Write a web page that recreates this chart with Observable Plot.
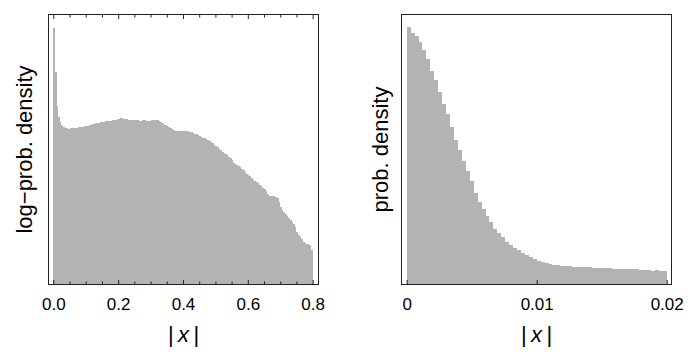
<!DOCTYPE html>
<html>
<head>
<meta charset="utf-8">
<script src="https://cdn.jsdelivr.net/npm/d3@7"></script>
<script src="https://cdn.jsdelivr.net/npm/@observablehq/plot@0.6"></script>
<style>
  html, body { margin: 0; padding: 0; background: #fff; }
  #wrap { display: flex; width: 692px; height: 362px; }
  svg { font-family: "Liberation Sans", Arial, sans-serif; color: #222; }
</style>
</head>
<body>
<div id="wrap"></div>
<script>
// ---- Left panel: histogram of |x| (log-prob. density, arbitrary units) ----
const leftBinWidth = 0.005;
const leftHeights = [
  256, 212, 178, 167, 162, 159, 157, 156, 156, 155.5,
  156, 156, 156, 156.5, 156.5, 157, 157, 157, 157.5, 158,
  158, 158.5, 159, 159.5, 160, 160.5, 161, 161.5, 161.5, 162,
  162.5, 162.5, 163, 163, 163.5, 163.5, 164, 164, 164.5, 165,
  165.5, 166, 166, 165.5, 165, 165, 164.5, 164.5, 164, 164,
  164, 164, 164, 163.5, 163.5, 164, 164, 163.5, 163, 163.5,
  164, 164, 164.5, 164.5, 164, 163, 162, 161, 159.5, 159,
  158, 157, 156, 155, 154, 153.5, 153.5, 153.5, 153.5, 153.5,
  153.5, 153.5, 153, 153, 152.5, 152, 151, 150.5, 150, 149,
  148, 147, 146.5, 146, 145, 144, 143, 142, 141, 139.5,
  138.5, 137, 135.5, 134, 132, 131, 130, 129, 127.5, 126,
  124, 121, 120, 119, 118, 117, 115.5, 114, 112, 110.5,
  109.5, 108, 106, 104.5, 103, 102, 101, 99.5, 98, 96.5,
  95, 93, 90, 88, 88, 88.5, 88, 87, 86.5, 82,
  77, 74, 72, 70, 68, 66.5, 64, 62, 60, 57,
  52, 49, 47, 45, 42, 41, 40.5, 40, 39, 34
];
const leftTicksMajor = [0, 0.2, 0.4, 0.6, 0.8];
const leftTickLabels = ["0.0", "0.2", "0.4", "0.6", "0.8"];
const leftTicksMinor = [0.05, 0.1, 0.15, 0.25, 0.3, 0.35, 0.45, 0.5, 0.55, 0.65, 0.7, 0.75];
const leftYTitle = "log\u2212prob. density";

// ---- Right panel: histogram of |x| (prob. density, arbitrary units) ----
const rightBinWidth = 0.02 / 66;
const rightHeights = [
  770, 752, 743, 726, 703, 675, 640, 612, 577, 540,
  510, 472, 432, 403, 370, 340, 310, 272, 247, 225,
  205, 185, 165, 152, 140, 127, 117, 107, 102, 92,
  86, 81, 75, 70, 66, 63, 61, 58, 57, 55,
  54, 53, 51, 50, 50, 50, 51, 49, 48, 47,
  47, 47, 46, 45, 45, 46, 45, 44, 44, 42,
  42, 41, 40, 41, 40, 39
];
const rightTicksMajor = [0, 0.01, 0.02];
const rightTickLabels = ["0", "0.01", "0.02"];
const rightYTitle = "prob. density";

const xTitle = "|x|";

const barFill = "#b3b3b3";
const frameColor = "#222";

function panel({heights, binWidth, xDomain, yMax, ticks, tickLabels, minor, topTicks, yTitle, marginLeft, marginRight, yTitleDx}) {
  const data = heights.map((h, i) => ({x1: i * binWidth, x2: (i + 1) * binWidth, h}));
  const marks = [
    Plot.rectY(data, {x1: "x1", x2: "x2", y: "h", fill: barFill, shapeRendering: "crispEdges"}),
    Plot.frame({stroke: frameColor}),
    // tick labels
    Plot.axisX({ticks, tickSize: 0, tickPadding: 13, tickFormat: (d, i) => tickLabels[i], fontSize: 17, fill: "#000", label: null}),
    // inward major ticks
    Plot.axisX({ticks, tickSize: -4, fill: "none", stroke: frameColor, label: null})
  ];
  if (minor) marks.push(Plot.axisX({ticks: minor, tickSize: -2.5, fill: "none", stroke: frameColor, label: null}));
  if (topTicks) {
    marks.push(Plot.axisX({anchor: "top", ticks, tickSize: -4, fill: "none", stroke: frameColor, label: null}));
    if (minor) marks.push(Plot.axisX({anchor: "top", ticks: minor, tickSize: -2.5, fill: "none", stroke: frameColor, label: null}));
  }
  marks.push(Plot.text([yTitle], {frameAnchor: "left", text: d => d, rotate: -90, dx: yTitleDx, textAnchor: "middle", lineAnchor: "middle", fontSize: 22, fill: "#000"}));
  marks.push(Plot.text([xTitle], {frameAnchor: "bottom", text: d => d, dy: 50, textAnchor: "middle", lineAnchor: "middle", fontSize: 22, fill: "#000"}));
  const svg = Plot.plot({
    width: 346,
    height: 362,
    marginTop: 14,
    marginBottom: 78,
    marginLeft,
    marginRight,
    x: {domain: xDomain, axis: null},
    y: {domain: [0, yMax], axis: null},
    marks
  });
  // italic x in the axis title
  svg.querySelectorAll("text").forEach(t => {
    if (t.textContent === xTitle) {
      t.textContent = "";
      const ns = "http://www.w3.org/2000/svg";
      const a = document.createElementNS(ns, "tspan"); a.textContent = "|\u2009";
      const b = document.createElementNS(ns, "tspan"); b.textContent = "x"; b.setAttribute("font-style", "italic");
      const c = document.createElementNS(ns, "tspan"); c.textContent = "\u2009|";
      t.append(a, b, c);
    }
  });
  return svg;
}

const wrap = document.getElementById("wrap");
wrap.append(panel({
  heights: leftHeights, binWidth: leftBinWidth, xDomain: [-0.0164, 0.8165], yMax: 270,
  ticks: leftTicksMajor, tickLabels: leftTickLabels, minor: leftTicksMinor, topTicks: true,
  yTitle: leftYTitle, marginLeft: 48, marginRight: 28, yTitleDx: -24
}));
wrap.append(panel({
  heights: rightHeights, binWidth: rightBinWidth, xDomain: [-0.00044, 0.02033], yMax: 810,
  ticks: rightTicksMajor, tickLabels: rightTickLabels, minor: null, topTicks: false,
  yTitle: rightYTitle, marginLeft: 55, marginRight: 21, yTitleDx: -21
}));
</script>
</body>
</html>
